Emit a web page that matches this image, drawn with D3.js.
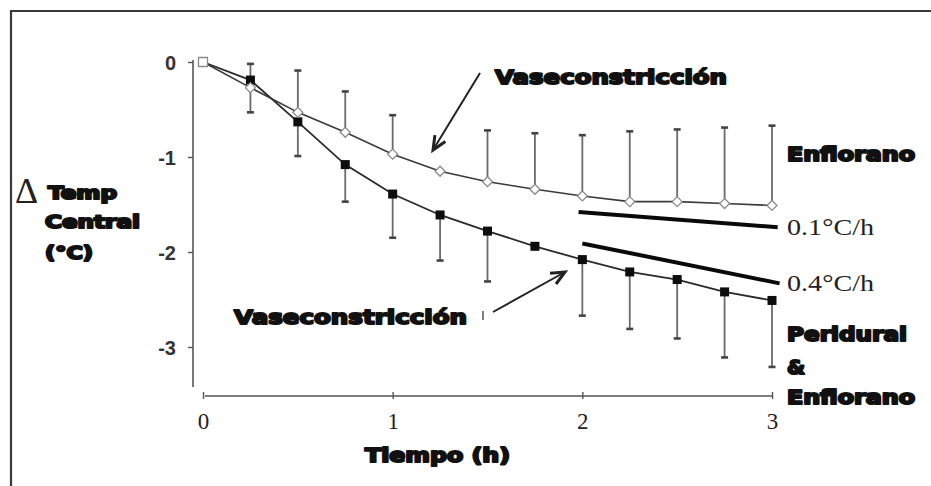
<!DOCTYPE html>
<html>
<head>
<meta charset="utf-8">
<script src="https://cdn.jsdelivr.net/npm/d3@7/dist/d3.min.js"></script>
<style>
  html, body { margin: 0; padding: 0; background: #fff; }
  .heavy { font-family: "DejaVu Sans", sans-serif; font-weight: bold; fill: #111; stroke: #111; stroke-width: 2; stroke-linejoin: round; }
  .serif { font-family: "Liberation Serif", "Times New Roman", serif; fill: #222; }
  .ylab  { font-family: "Liberation Sans", Arial, sans-serif; font-weight: bold; fill: #333; }
</style>
</head>
<body>
<svg id="chart" width="931" height="486"></svg>
<script>
// ── Data ───────────────────────────────────────────────────────────────
const times          = [0, 0.25, 0.5, 0.75, 1, 1.25, 1.5, 1.75, 2, 2.25, 2.5, 2.75, 3];
const enfloranoMean  = [0, -0.27, -0.53, -0.74, -0.97, -1.15, -1.26, -1.34, -1.41, -1.47, -1.47, -1.49, -1.51];
const enfloranoUpper = [null, -0.02, -0.09, -0.31, -0.56, null, -0.72, -0.75, -0.77, -0.73, -0.71, -0.69, -0.67];
const periduralMean  = [0, -0.19, -0.63, -1.08, -1.39, -1.61, -1.78, -1.94, -2.08, -2.21, -2.29, -2.42, -2.51];
const periduralLower = [null, -0.53, -0.99, -1.47, -1.85, -2.09, -2.31, null, -2.67, -2.81, -2.91, -3.11, -3.21];

const xTicks = [0, 1, 2, 3];
const yTicks = [0, -1, -2, -3];

// rate lines: [t, value] at start and end
const trendLabels = ['0.1°C/h', '0.4°C/h'];
const trendStart  = [[1.98, -1.58], [2.0, -1.91]];
const trendEnd    = [[3.03, -1.74], [3.04, -2.33]];

// ── Layout ─────────────────────────────────────────────────────────────
const svg = d3.select('#chart');

const x = d3.scaleLinear().domain([0, 3]).range([203, 772]);
const y = d3.scaleLinear().domain([-3, 0]).range([347, 62]);

// outer frame (top + left only)
svg.append('path')
  .attr('d', 'M11,487 V11 H932')
  .attr('fill', 'none')
  .attr('stroke', '#3a3a3a')
  .attr('stroke-width', 2.2);

// ── Axes ───────────────────────────────────────────────────────────────
const axisCol = '#555';

const yAxisG = svg.append('g')
  .attr('transform', 'translate(193,0)')
  .call(d3.axisLeft(y).tickValues(yTicks).tickSize(5).tickPadding(12)
    .tickFormat(d => String(d)));
yAxisG.select('.domain').remove();
yAxisG.append('line')
  .attr('y1', y(0.02)).attr('y2', y(-3.42))
  .attr('stroke', axisCol).attr('stroke-width', 1.6);
yAxisG.selectAll('.tick line').attr('stroke', axisCol).attr('stroke-width', 1.4);
yAxisG.selectAll('.tick text')
  .attr('class', 'ylab')
  .attr('font-size', 20)
  .attr('dy', '0.36em');

const xAxisG = svg.append('g')
  .attr('transform', 'translate(0,396)')
  .call(d3.axisBottom(x).tickValues(xTicks).tickSize(3).tickPadding(14)
    .tickFormat(d => String(d)));
xAxisG.select('.domain').remove();
xAxisG.append('line')
  .attr('x1', x(0.01)).attr('x2', x(3))
  .attr('stroke', axisCol).attr('stroke-width', 1.6);
xAxisG.selectAll('.tick line').attr('y1', -4).attr('stroke', axisCol).attr('stroke-width', 1.4);
xAxisG.selectAll('.tick text')
  .attr('class', 'serif')
  .attr('font-size', 23);

// ── Error bars ─────────────────────────────────────────────────────────
const barCol = '#6a6a6a';
function errorBars(means, ends) {
  const g = svg.append('g');
  times.forEach((t, i) => {
    if (ends[i] == null) return;
    g.append('line')
      .attr('x1', x(t)).attr('x2', x(t))
      .attr('y1', y(means[i])).attr('y2', y(ends[i]))
      .attr('stroke', barCol).attr('stroke-width', 1.8);
    g.append('line')
      .attr('x1', x(t) - 3.5).attr('x2', x(t) + 3.5)
      .attr('y1', y(ends[i])).attr('y2', y(ends[i]))
      .attr('stroke', '#444').attr('stroke-width', 2.6);
  });
}
errorBars(enfloranoMean, enfloranoUpper);
errorBars(periduralMean, periduralLower);

// ── Series lines ───────────────────────────────────────────────────────
const line = d3.line().x((d, i) => x(times[i])).y(d => y(d));

svg.append('path').datum(periduralMean)
  .attr('d', line).attr('fill', 'none')
  .attr('stroke', '#2a2a2a').attr('stroke-width', 1.8);
svg.append('path').datum(enfloranoMean)
  .attr('d', line).attr('fill', 'none')
  .attr('stroke', '#3a3a3a').attr('stroke-width', 1.6);

// filled squares – Peridural & Enflorano
svg.append('g').selectAll('rect')
  .data(periduralMean)
  .join('rect')
  .attr('x', (d, i) => x(times[i]) - 4.5)
  .attr('y', d => y(d) - 4.5)
  .attr('width', 9).attr('height', 9)
  .attr('fill', '#0d0d0d');

// open diamonds – Enflorano
svg.append('g').selectAll('path')
  .data(enfloranoMean)
  .join('path')
  .attr('d', (d, i) => {
    const cx = x(times[i]), cy = y(d), r = 5;
    if (i === 0) return `M${cx - 4.5},${cy - 4.5}h9v9h-9Z`;
    return `M${cx},${cy - r}L${cx + r},${cy}L${cx},${cy + r}L${cx - r},${cy}Z`;
  })
  .attr('fill', '#fff')
  .attr('stroke', '#8a8a8a')
  .attr('stroke-width', 1.3);

// ── Rate lines ─────────────────────────────────────────────────────────
trendLabels.forEach((lab, i) => {
  svg.append('line')
    .attr('x1', x(trendStart[i][0])).attr('y1', y(trendStart[i][1]))
    .attr('x2', x(trendEnd[i][0])).attr('y2', y(trendEnd[i][1]))
    .attr('stroke', '#0a0a0a').attr('stroke-width', 4);
  svg.append('text')
    .attr('class', 'serif')
    .attr('x', 787).attr('y', y(trendEnd[i][1]) + 8)
    .attr('font-size', 23)
    .attr('textLength', 87).attr('lengthAdjust', 'spacingAndGlyphs')
    .text(lab);
});

// ── Annotations ────────────────────────────────────────────────────────
function heavyText(txt, px, py, w, size) {
  svg.append('text')
    .attr('class', 'heavy')
    .attr('x', px).attr('y', py)
    .attr('font-size', size)
    .attr('dy', '0.36em')
    .attr('textLength', w).attr('lengthAdjust', 'spacingAndGlyphs')
    .text(txt);
}

function arrow(x1, y1, x2, y2) {
  const a = Math.atan2(y2 - y1, x2 - x1), L = 15, s = 0.42;
  const g = svg.append('g').attr('stroke', '#222').attr('stroke-width', 2).attr('fill', 'none');
  g.append('line').attr('x1', x1).attr('y1', y1).attr('x2', x2).attr('y2', y2);
  g.append('path')
    .attr('d', `M${x2 - L * Math.cos(a - s)},${y2 - L * Math.sin(a - s)}L${x2},${y2}L${x2 - L * Math.cos(a + s)},${y2 - L * Math.sin(a + s)}`)
    .attr('stroke-width', 3);
}

heavyText('Vaseconstricción', 495, 77, 232, 20);
arrow(480, 73, 433, 150);

heavyText('Vaseconstricción', 234, 317, 233, 20);
arrow(493, 312, 565, 272);
svg.append('line')
  .attr('x1', 483).attr('x2', 483).attr('y1', 311).attr('y2', 320)
  .attr('stroke', '#555').attr('stroke-width', 1.5);

heavyText('Enflorano', 787, 154, 128, 19);
heavyText('Peridural', 787, 334, 120, 19);
heavyText('&', 787, 367, 18, 19);
heavyText('Enflorano', 787, 397, 128, 19);

// y title
svg.append('text')
  .attr('class', 'serif')
  .attr('x', 15).attr('y', 203)
  .attr('font-size', 36)
  .text('Δ');
heavyText('Temp', 48, 193, 69, 17);
heavyText('Central', 45, 222, 95, 17);
heavyText('(°C)', 45, 253, 48, 17);

// x title
heavyText('Tiempo (h)', 365, 455, 145, 19);
</script>
</body>
</html>
